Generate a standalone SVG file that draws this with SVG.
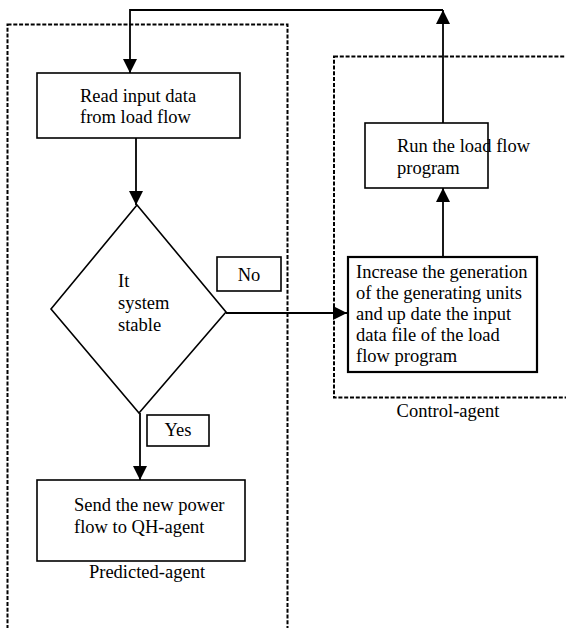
<svg xmlns="http://www.w3.org/2000/svg" width="566" height="628" viewBox="0 0 566 628">
<style>
  .box{fill:#fff;stroke:#000;stroke-width:1.6}
  .thick{stroke-width:2.2}
  .grp{fill:none;stroke:#000;stroke-width:2;stroke-dasharray:4 1.8}
  .con{fill:none;stroke:#000;stroke-width:1.8}
  text{font-family:"Liberation Serif","Times New Roman",serif;font-size:18.5px;fill:#000}
  .c{text-anchor:middle}
</style>
<defs>
  <marker id="ah" markerUnits="userSpaceOnUse" markerWidth="14" markerHeight="14" viewBox="0 0 12 12" refX="12" refY="6" orient="auto">
    <path d="M0,0 L12,6 L0,12 Z" fill="#000"/>
  </marker>
</defs>
<rect width="566" height="628" fill="#fff"/>
<g id="groups">
  <rect id="predicted-agent-area" class="grp" x="7.5" y="24.5" width="280" height="640"/>
  <rect id="control-agent-area" class="grp" x="334" y="56.5" width="260" height="341"/>
  <text class="c" x="448" y="417">Control-agent</text>
  <text class="c" x="147" y="578">Predicted-agent</text>
</g>
<g id="connectors">
  <path class="con" d="M136,138 L136,205" marker-end="url(#ah)"/>
  <path class="con" d="M140,413 L140,480" marker-end="url(#ah)"/>
  <path class="con" d="M226,313 L347,313" marker-end="url(#ah)"/>
  <path class="con" d="M443,257 L443,188" marker-end="url(#ah)"/>
  <path class="con" d="M443,123 L443,10" marker-end="url(#ah)"/>
  <path class="con" d="M443,10 L130,10 L130,73" marker-end="url(#ah)"/>
</g>
<g id="read">
  <rect class="box" x="37" y="73" width="203" height="65"/>
  <text x="80" y="102">Read input data</text>
  <text x="80" y="123">from load flow</text>
</g>
<g id="decision">
  <polygon class="box" points="137,205 226,312 139,413 51,309"/>
  <text x="118" y="287">It</text>
  <text x="118" y="309">system</text>
  <text x="118" y="331">stable</text>
</g>
<g id="no-label">
  <rect class="box" x="217" y="257" width="64" height="34"/>
  <text class="c" x="249" y="281">No</text>
</g>
<g id="yes-label">
  <rect class="box" x="147" y="415" width="62" height="31"/>
  <text class="c" x="178" y="436">Yes</text>
</g>
<g id="send">
  <rect class="box" x="37" y="480" width="208" height="81"/>
  <text x="74" y="511">Send the new power</text>
  <text x="74" y="533">flow to QH-agent</text>
</g>
<g id="increase">
  <rect class="box thick" x="348" y="257" width="189" height="115"/>
  <text x="356" y="278">Increase the generation</text>
  <text x="356" y="299">of the generating units</text>
  <text x="356" y="320">and up date the input</text>
  <text x="356" y="341">data file of the load</text>
  <text x="356" y="362">flow program</text>
</g>
<g id="run">
  <rect class="box" x="365" y="123" width="123" height="65"/>
  <text x="397" y="152">Run the load flow</text>
  <text x="397" y="174">program</text>
</g>
</svg>
